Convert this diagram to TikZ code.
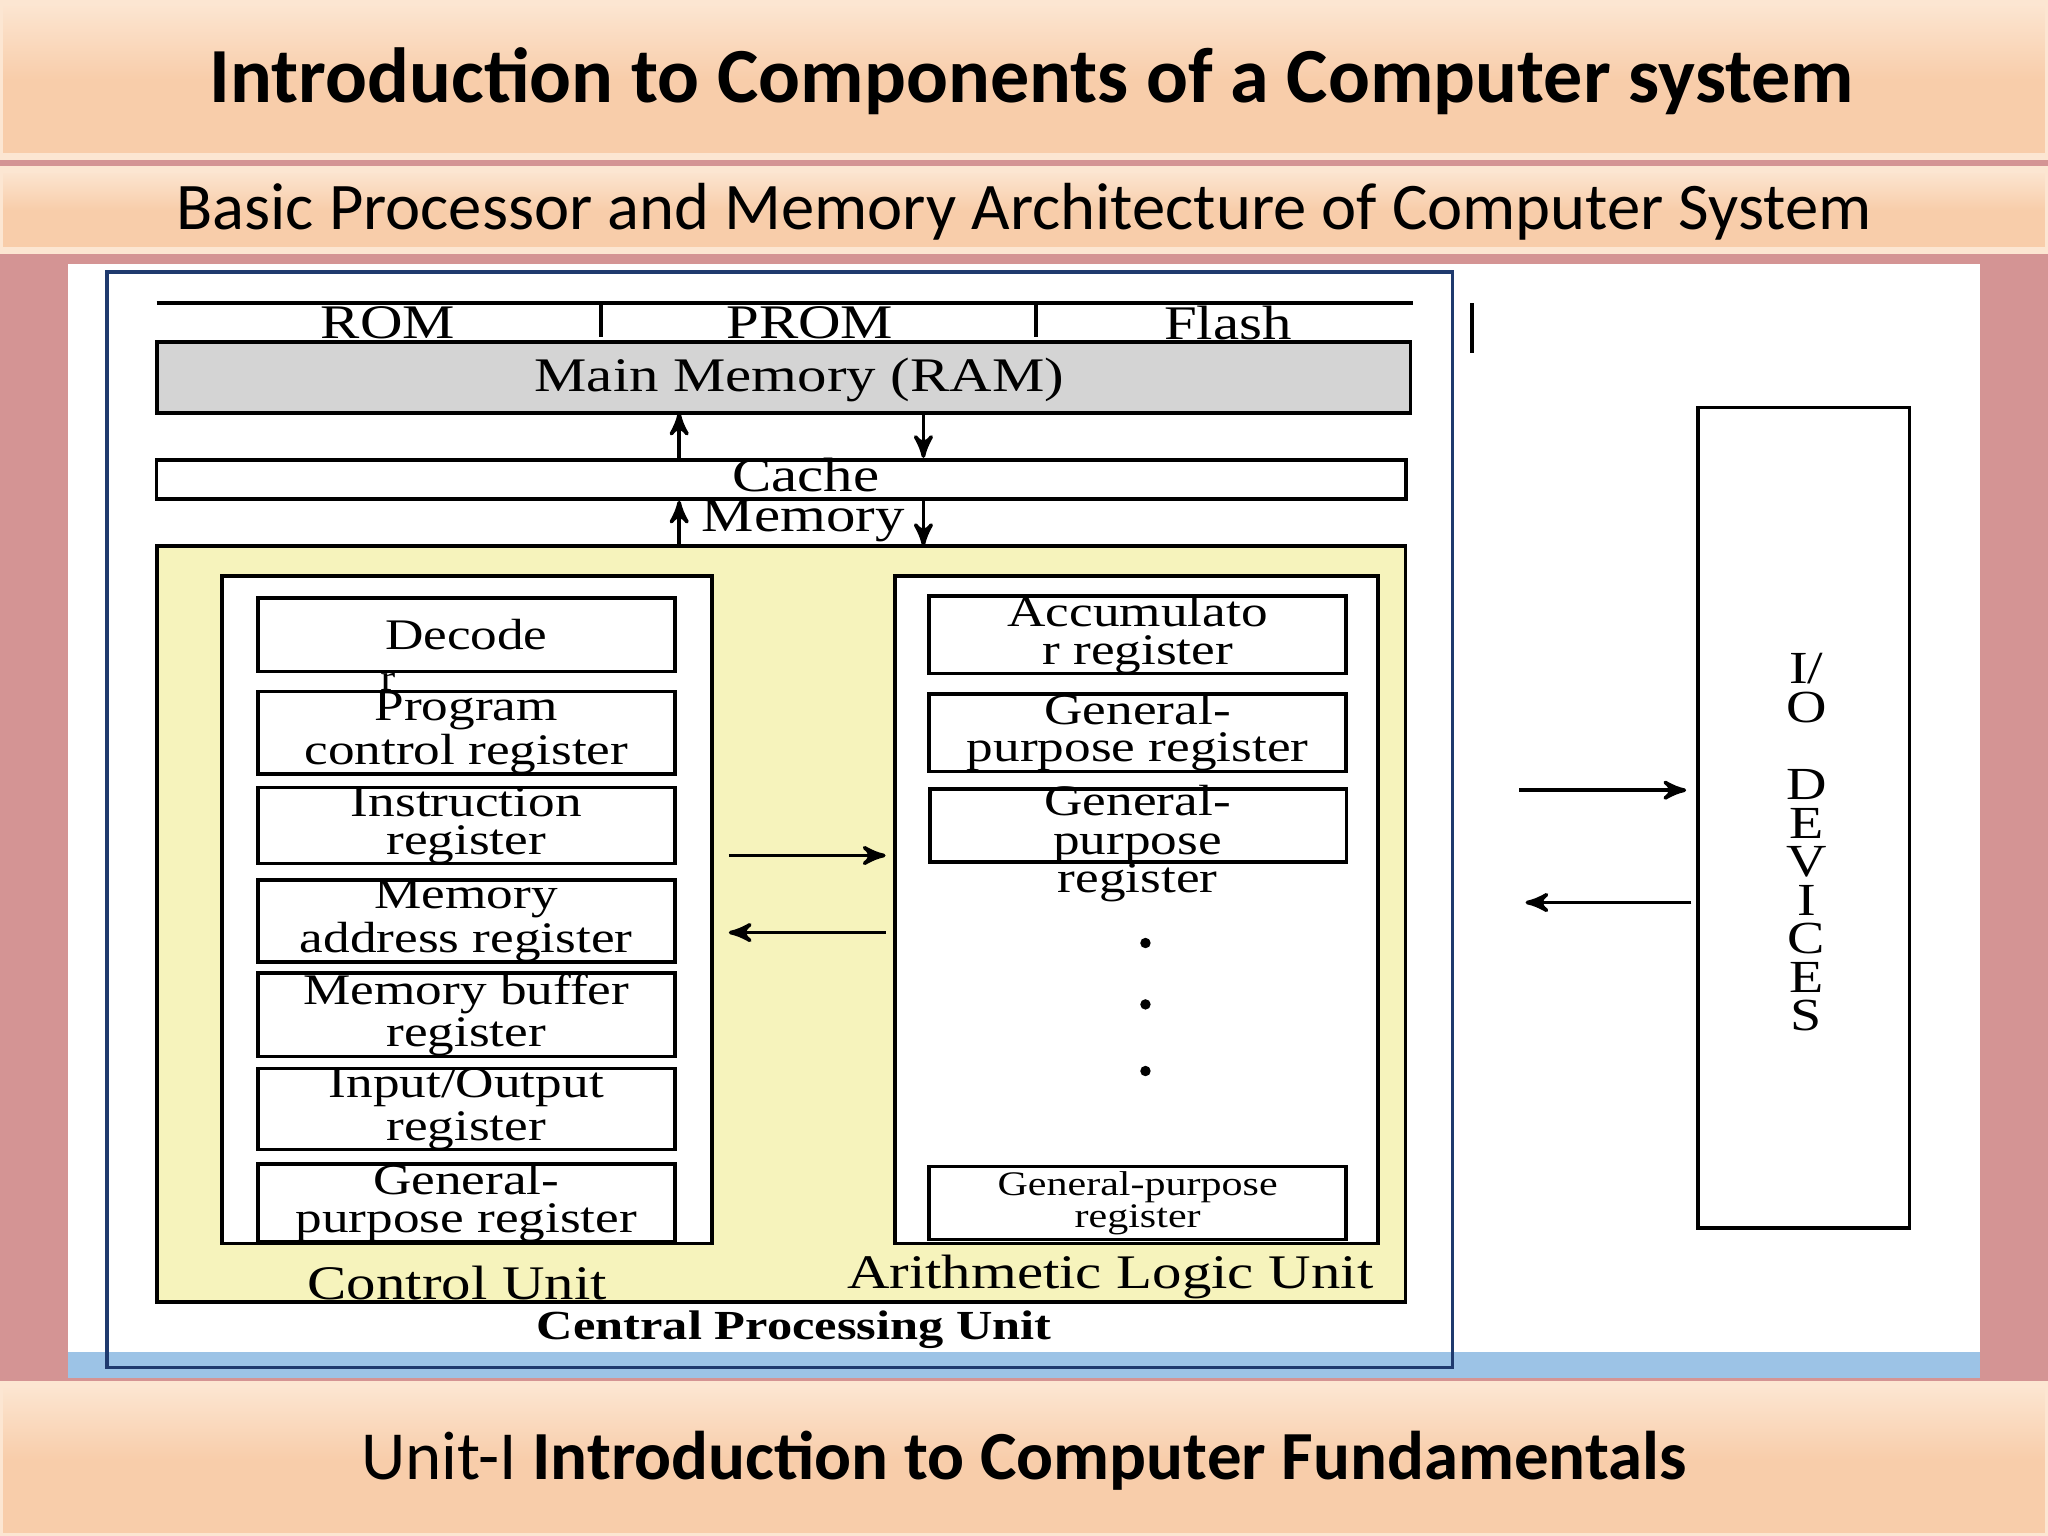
\documentclass[tikz,border=0pt]{standalone}
\usepackage{fontspec}
\setmainfont{Liberation Serif}
\newfontfamily\slidefont{Carlito}
\newfontfamily\diagfont{Liberation Serif}[FakeStretch=1.22]
\usetikzlibrary{arrows,positioning}
\definecolor{slidebg}{HTML}{D49494}
\definecolor{banner}{HTML}{F8CDAA}
\definecolor{bannerhi}{HTML}{FCE6D2}
\definecolor{cpuyellow}{HTML}{F6F3BC}
\definecolor{ramgray}{HTML}{D4D4D4}
\definecolor{framblue}{HTML}{1F3A6E}
\definecolor{stripblue}{HTML}{9CC3E6}
\begin{document}
\begin{tikzpicture}[x=0.01cm,y=-0.01cm,
  -,>=stealth',semithick,
  band/.style={draw=bannerhi,line width=1.5pt,top color=bannerhi,bottom color=banner,middle color=banner},
  reg/.style={draw,rectangle,fill=white,thick,inner sep=0pt,align=center,minimum width=3.19cm,minimum height=0.56cm,
    font=\diagfont\fontsize{9.5}{8.2}\selectfont},
  unit/.style={draw,rectangle,fill=white,thick},
  lbl/.style={font=\diagfont\fontsize{10.5}{10.5}\selectfont,inner sep=0pt}]
  \tikzstyle{flow}=[->,thick]

  % slide background and banners
  \fill[slidebg] (0,0) rectangle (1568,1176);
  \useasboundingbox (0,0) rectangle (1568,1176);
  \path[band] (0,2) rectangle (1568,120);
  \path[band] (0,130) rectangle (1568,192);
  \path[band] (0,1060) rectangle (1568,1176);
  \node[font=\slidefont\bfseries\fontsize{17}{17}\selectfont] (title) at (790,62) {Introduction to Components of a Computer system};
  \node[font=\slidefont\fontsize{14.5}{14.5}\selectfont] (subtitle) at (784,162) {Basic Processor and Memory Architecture of Computer System};
  \node[font=\slidefont\fontsize{15}{15}\selectfont] (unit) at (784,1118) {Unit-I \textbf{Introduction to Computer Fundamentals}};

  % picture area
  \fill[white] (52,202) rectangle (1516,1055);
  \fill[stripblue] (52,1035) rectangle (1516,1055);
  \draw[framblue,thick] (82,208) rectangle (1112,1047);
  \draw[thick] (1127,232) -- (1127,270);

  % memory
  \draw[thick] (120,232) -- (1082,232);
  \draw[thick] (460,232) -- (460,258) (793,232) -- (793,258);
  \node[lbl] (rom) at (297,247) {ROM};
  \node[lbl] (prom) at (620,247) {PROM};
  \node[lbl] (flash) at (940,247) {Flash};
  \draw[thick,fill=ramgray] (120,262) rectangle (1080,316);
  \node[lbl] (ramtxt) at (612,291) {Main Memory (RAM)};
  \node[draw,thick,minimum width=9.56cm,minimum height=0.30cm,inner sep=0pt] (cache) at (598,367) {};
  \node[lbl] (cachetxt) at (617,364) {Cache};
  \coordinate (ramup) at (520,316);
  \coordinate (ramdn) at (707,316);
  \draw[flow] (cache.north -| ramup) -- (ramup);
  \draw[flow] (ramdn) -- (cache.north -| ramdn);
  \node[lbl] (memtxt) at (615,399) {Memory};

  % cpu
  \draw[thick,fill=cpuyellow] (120,418) rectangle (1076,997);
  \draw[flow] (520,418) -- (cache.south -| ramup);
  \draw[flow] (cache.south -| ramdn) -- (707,418);
  \draw[unit] (170,441) rectangle (545,952);
  \draw[unit] (685,441) rectangle (1055,952);
  \foreach \y/\txt [count=\i] in {486/Decode, 561/Program\\control register, 632/Instruction\\register,
      705/Memory\\address register, 777/Memory buffer\\register, 849/{Input/Output}\\register, 921/General-\\purpose register}
    \node[reg] (cu\i) at (357,\y) {\txt};
  \node[lbl,font=\diagfont\fontsize{8}{8}\selectfont] (cur) at (297,522) {r};
  \foreach \y/\txt [count=\i] in {486/Accumulato\\r register, 561/General-\\purpose register}
    \node[reg] (alu\i) at (871,\y) {\txt};
  \draw[thick,fill=white] (712,604) rectangle (1031,660);
  \node[align=center,font=\diagfont\fontsize{9.5}{8.4}\selectfont] (alu3) at (871,646) {General-\\purpose\\register};
  \node[reg,font=\diagfont\fontsize{7.5}{7}\selectfont] (alu4) at (871,921) {General-purpose\\register};
  \foreach \y in {722,769,820}
    \fill (877,\y) circle (4);
  \coordinate (cuR) at (558,655);
  \coordinate (aluL) at (678,655);
  \draw[flow] (cuR) -- (aluL);
  \draw[flow] (678,714) -- (558,714);
  \node[lbl] (cutxt) at (350,982) {Control Unit};
  \node[lbl] (alutxt) at (850,978) {Arithmetic Logic Unit};
  \node[font=\diagfont\bfseries\fontsize{9}{9}\selectfont] (cputxt) at (608,1018) {Central Processing Unit};

  % i/o
  \draw[thick] (1300,312) rectangle (1462,940);
  \node[align=center,font=\diagfont\fontsize{10}{8.4}\selectfont] (io) at (1383,645) {I/\\O\\[8.4pt]D\\E\\V\\I\\C\\E\\S};
  \draw[flow] (1163,605) -- (1291,605);
  \draw[flow] (1295,691) -- (1168,691);
\end{tikzpicture}
\end{document}
